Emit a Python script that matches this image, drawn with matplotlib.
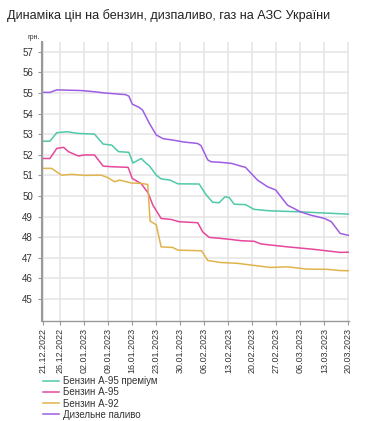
import pandas as pd
import matplotlib
matplotlib.use("Agg")
import matplotlib.pyplot as plt

plt.rcParams["font.family"] = ["Liberation Sans", "DejaVu Sans"]

title = "Динаміка цін на бензин, дизпаливо, газ на АЗС України"
start = pd.Timestamp("2022-12-21")
tick_dates = ["21.12.2022", "26.12.2022", "02.01.2023", "09.01.2023", "16.01.2023",
              "23.01.2023", "30.01.2023", "06.02.2023", "13.02.2023", "20.02.2023",
              "27.02.2023", "06.03.2023", "13.03.2023", "20.03.2023"]

# days since 21.12.2022 and price, грн
premium_day = [0, 2, 4, 7, 10, 15, 17.5, 20, 22, 25, 26.2, 28.6, 30.1, 31, 33, 34.4, 37, 39.3,
               45.5, 47.5, 49.4, 51.3, 53, 54.2, 55.7, 59, 61.5, 66, 75, 81, 89]
premium_val = [52.66, 52.66, 53.07, 53.12, 53.04, 53.0, 52.52, 52.47, 52.15, 52.12, 51.6,
               51.82, 51.58, 51.46, 51.01, 50.83, 50.77, 50.59, 50.58, 50.06, 49.7, 49.67,
               49.96, 49.93, 49.6, 49.58, 49.35, 49.28, 49.23, 49.18, 49.12]

a95_day = [0, 2, 4, 6, 7.4, 10.3, 12, 15, 17.5, 20, 24.8, 26, 28.6, 30.6, 32, 34.4, 37.3,
           39.7, 45.1, 46.5, 48.4, 51.8, 54.7, 57.6, 61.5, 63.5, 71.2, 78.9, 86.6, 89]
a95_val = [51.82, 51.82, 52.31, 52.36, 52.15, 51.94, 51.99, 51.99, 51.45, 51.42, 51.39,
           50.85, 50.6, 50.15, 49.56, 48.91, 48.86, 48.75, 48.7, 48.26, 47.99, 47.94,
           47.89, 47.83, 47.8, 47.67, 47.53, 47.41, 47.26, 47.27]

a92_day = [0, 2.5, 5.4, 8.3, 12.2, 17, 19, 20.9, 22.3, 25.7, 28.6, 30.5, 31.2, 33, 34.4,
           37.8, 39.3, 46.2, 48, 51.8, 56.7, 60.5, 66.3, 71.2, 76.9, 82.7, 86.6, 89]
a92_val = [51.34, 51.34, 51.01, 51.05, 51.0, 51.01, 50.88, 50.69, 50.77, 50.63, 50.61,
           50.56, 48.78, 48.6, 47.53, 47.5, 47.37, 47.34, 46.87, 46.77, 46.73, 46.65,
           46.53, 46.56, 46.45, 46.44, 46.38, 46.37]

diesel_day = [0, 2, 4, 11, 15, 18, 24, 25, 26, 28, 29, 31, 33, 35, 38, 41, 45, 46, 48, 49,
              52, 55, 57.6, 59, 62.5, 65.4, 67.8, 71.2, 75, 78, 82, 84, 86.6, 89]
diesel_val = [55.03, 55.03, 55.15, 55.12, 55.06, 55.0, 54.92, 54.85, 54.46, 54.3, 54.17,
              53.52, 52.96, 52.78, 52.71, 52.62, 52.55, 52.45, 51.75, 51.66, 51.63, 51.58,
              51.45, 51.39, 50.77, 50.45, 50.29, 49.56, 49.23, 49.07, 48.91, 48.75, 48.18,
              48.09]

series = [
    ("Бензин А-95 преміум", premium_day, premium_val, "#4fc9a9"),
    ("Бензин А-95", a95_day, a95_val, "#e5489b"),
    ("Бензин А-92", a92_day, a92_val, "#e0b44c"),
    ("Дизельне паливо", diesel_day, diesel_val, "#9d5ee3"),
]

fig = plt.figure(figsize=(3.82, 4.21), dpi=100)
ax = fig.add_axes([0.110, 0.2375, 0.804, 0.6625])

for name, days, vals, color in series:
    ax.plot(days, vals, color=color, lw=1.1, label=name)

tick_pos = [(pd.to_datetime(t, format="%d.%m.%Y") - start).days for t in tick_dates]
ax.set_xticks(tick_pos)
ax.set_xticklabels(tick_dates, rotation=90, fontsize=6.5, color="#333333")
ax.set_yticks(range(45, 58))
ax.tick_params(axis="y", labelsize=7, colors="#333333", length=3, width=0.8)
ax.tick_params(axis="x", length=3, width=0.8, pad=2)
ax.tick_params(axis="both", color="#999999")
ax.set_xlim(-0.3, 89.2)
ax.set_ylim(43.93, 57.47)

ax.grid(True, color="#e6e6e6", lw=1.2)
ax.set_axisbelow(True)
for s in ["top", "right"]:
    ax.spines[s].set_visible(False)
ax.spines["left"].set_color("#999999")
ax.spines["left"].set_linewidth(1.5)
ax.spines["bottom"].set_color("#999999")
ax.spines["bottom"].set_linewidth(1.0)

fig.text(0.018, 0.963, title, fontsize=9.1, color="#222222", va="center")
fig.text(0.105, 0.912, "грн.", fontsize=5, color="#333333", ha="right", va="center")

fig.legend(loc="upper left", bbox_to_anchor=(0.1, 0.118), frameon=False, fontsize=7,
           handlelength=1.6, handletextpad=0.5, labelspacing=0.12, borderpad=0,
           labelcolor="#333333")

fig.savefig("out.png", dpi=100)
